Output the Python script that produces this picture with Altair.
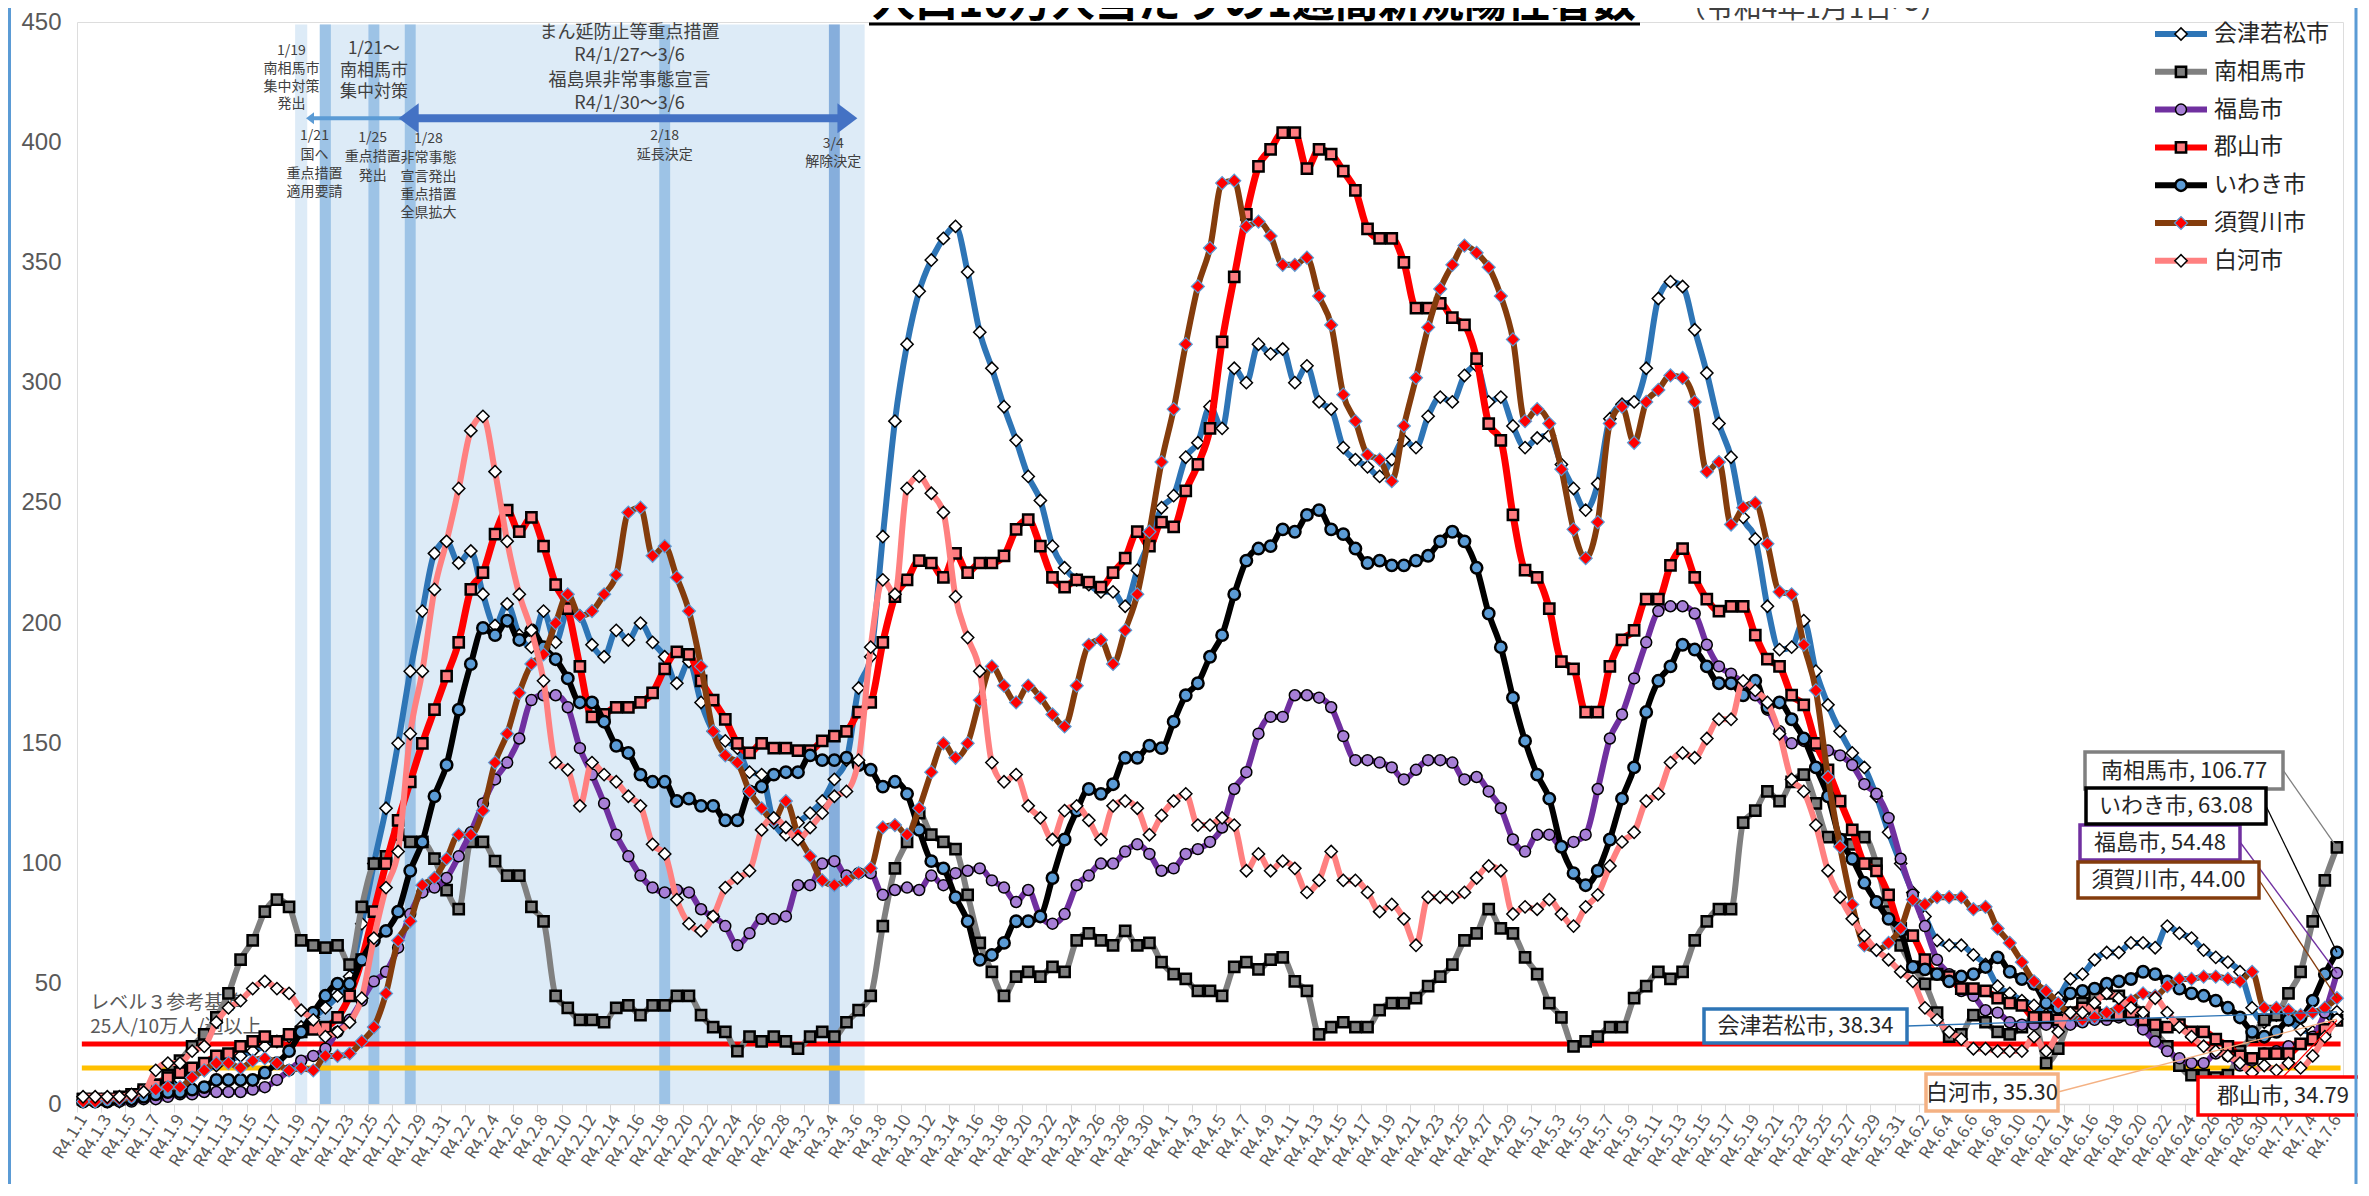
import json
import pandas as pd
import altair as alt

FONT = "Noto Sans CJK JP"

# ---------------- data ----------------
dates = pd.date_range("2022-01-01", "2022-07-06", freq="D")
day_labels = [f"R4.{d.month}.{d.day}" for d in dates]
days = list(range(len(day_labels)))

cities = ["会津若松市", "南相馬市", "福島市", "郡山市", "いわき市", "須賀川市", "白河市"]

aizu = [1, 1, 1, 1, 2, 3, 5, 8, 10, 12,
        14, 16, 18, 20, 22, 24, 26, 28, 32, 36,
        40, 45, 53, 75, 100, 123, 150, 180, 205, 229,
        234, 225, 230, 212, 199, 208, 195, 190, 205, 192,
        205, 203, 191, 186, 197, 193, 200, 192, 186, 175,
        184, 167, 155, 151, 148, 138, 137, 117, 112, 117,
        121, 126, 135, 143, 173, 186, 236, 284, 316, 338,
        351, 360, 365, 346, 321, 306, 290, 276, 261, 251,
        232, 223, 218, 216, 213, 213, 207, 222, 234, 248,
        253, 269, 275, 290, 281, 306, 300, 316, 312, 314,
        300, 307, 292, 289, 273, 268, 265, 261, 268, 276,
        273, 286, 294, 292, 303, 307, 292, 294, 282, 273,
        277, 278, 266, 256, 247, 258, 285, 291, 292, 306,
        335, 342, 340, 322, 304, 283, 269, 244, 235, 207,
        189, 190, 201, 180, 166, 155, 146, 140, 128, 113,
        100, 88, 78, 68, 66, 66, 62, 58, 49, 46,
        43, 41, 37, 44, 52, 54, 60, 63, 63, 67,
        67, 65, 74, 71, 69, 64, 61, 59, 55, 40,
        34, 37, 35, 31, 30, 34, 38.34]

minamisoma = [2, 2, 2, 2, 3, 5, 8, 12, 18, 24,
              29, 36, 46, 60, 68, 80, 85, 82, 68, 66,
              65, 66, 58, 82, 100, 103, 112, 109, 109, 102,
              89, 81, 109, 109, 101, 95, 95, 82, 76, 45,
              40, 35, 35, 34, 40, 41, 37, 41, 41, 45,
              45, 37, 32, 30, 22, 28, 26, 28, 26, 23,
              28, 30, 28, 34, 39, 45, 74, 98, 109, 121,
              112, 109, 106, 87, 67, 55, 45, 53, 55, 53,
              57, 55, 68, 71, 68, 66, 72, 66, 67, 59,
              54, 52, 47, 47, 45, 57, 59, 56, 60, 61,
              51, 47, 29, 32, 34, 32, 32, 39, 42, 42,
              44, 49, 53, 58, 68, 71, 81, 73, 71, 61,
              54, 42, 36, 24, 26, 28, 32, 32, 44, 49,
              55, 52, 55, 68, 76, 81, 81, 117, 122, 130,
              126, 134, 137, 125, 111, 110, 108, 111, 100, 80,
              66, 57, 50, 38, 28, 29, 37, 34, 30, 29,
              32, 36, 17, 23, 36, 42, 44, 46, 45, 42,
              38, 30, 24, 16, 12, 12, 11, 12, 22, 28,
              35, 37, 46, 55, 76, 93, 106.77]

fukushima = [1, 1, 1, 1, 1, 2, 2, 3, 4, 4,
             5, 5, 5, 5, 6, 7, 10, 14, 18, 20,
             23, 30, 35, 43, 51, 55, 65, 79, 88, 90,
             94, 103, 113, 125, 135, 142, 152, 168, 170, 170,
             165, 148, 137, 125, 112, 103, 95, 90, 88, 89,
             88, 81, 78, 74, 66, 71, 77, 77, 78, 91,
             91, 100, 101, 95, 96, 96, 87, 89, 90, 89,
             95, 91, 96, 97, 98, 93, 90, 84, 89, 78,
             75, 79, 91, 95, 100, 100, 105, 108, 104, 97,
             98, 104, 106, 109, 115, 131, 138, 154, 161, 161,
             170, 170, 169, 165, 153, 143, 143, 142, 140, 135,
             139, 143, 143, 142, 135, 136, 130, 123, 110, 105,
             112, 112, 107, 109, 112, 131, 152, 162, 177, 192,
             205, 207, 207, 204, 191, 182, 179, 175, 170, 164,
             155, 150, 151, 149, 147, 145, 141, 133, 129, 119,
             102, 87, 74, 60, 54, 47, 45, 39, 38, 34,
             33, 33, 33, 33, 33, 34, 35, 35, 36, 35,
             31, 26, 22, 19, 17, 17, 21, 20, 16, 18,
             21, 22, 24, 25, 28, 38, 54.48]

koriyama = [2, 2, 2, 3, 4, 6, 8, 11, 13, 15,
            17, 20, 21, 24, 26, 28, 26, 29, 30, 31,
            32, 36, 45, 60, 80, 100, 118, 134, 150, 164,
            178, 192, 214, 221, 237, 247, 238, 244, 232, 216,
            206, 182, 161, 162, 165, 165, 167, 171, 181, 188,
            187, 176, 168, 160, 150, 146, 150, 148, 148, 147,
            147, 151, 153, 155, 163, 167, 192, 211, 218, 226,
            225, 219, 229, 221, 225, 225, 228, 239, 243, 232,
            219, 215, 218, 217, 215, 221, 227, 238, 232, 242,
            240, 255, 266, 281, 317, 344, 370, 390, 397, 404,
            404, 389, 397, 395, 388, 380, 364, 360, 360, 350,
            331, 331, 333, 327, 324, 310, 283, 276, 245, 222,
            219, 206, 184, 181, 163, 163, 182, 193, 197, 210,
            210, 224, 231, 219, 210, 205, 207, 207, 195, 185,
            182, 170, 166, 150, 139, 126, 114, 100, 97, 87,
            73, 70, 60, 54, 53, 48, 48, 47, 44, 42,
            41, 36, 36, 35, 38, 40, 38, 37, 37, 38,
            35, 33, 32, 33, 30, 30, 27, 24, 20, 19,
            21, 21, 21, 25, 27, 31, 34.79]

iwaki = [1, 1, 1, 2, 2, 3, 4, 5, 5, 6,
         7, 10, 10, 10, 10, 13, 17, 22, 30, 38,
         45, 50, 50, 60, 68, 72, 80, 97, 109, 128,
         141, 164, 183, 198, 195, 201, 193, 197, 190, 185,
         177, 167, 167, 159, 149, 146, 137, 134, 134, 126,
         127, 124, 124, 118, 118, 130, 132, 137, 138, 138,
         145, 143, 143, 144, 141, 139, 132, 134, 129, 114,
         101, 98, 86, 76, 60, 62, 67, 76, 76, 78,
         94, 110, 122, 131, 129, 133, 144, 144, 149, 148,
         159, 170, 175, 186, 195, 212, 226, 231, 232, 239,
         238, 245, 247, 239, 237, 231, 225, 226, 224, 224,
         226, 228, 234, 238, 234, 223, 204, 190, 169, 151,
         137, 127, 107, 96, 91, 97, 110, 127, 140, 163,
         176, 182, 191, 189, 182, 175, 175, 170, 176, 165,
         167, 160, 152, 140, 128, 110, 102, 92, 84, 77,
         72, 57, 56, 54, 51, 53, 54, 57, 61, 55,
         52, 50, 42, 40, 46, 47, 48, 50, 51, 52,
         55, 54, 51, 48, 46, 45, 43, 40, 36, 30,
         28, 30, 35, 36, 43, 54, 63.08]

sukagawa = [1, 1, 2, 2, 3, 5, 6, 7, 7, 11,
            14, 17, 17, 15, 18, 19, 17, 14, 15, 14,
            20, 20, 21, 26, 32, 46, 68, 76, 91, 94,
            102, 112, 112, 122, 142, 154, 171, 183, 187, 200,
            212, 203, 205, 212, 220, 246, 248, 228, 232, 219,
            205, 182, 155, 145, 142, 130, 123, 118, 126, 112,
            103, 93, 91, 93, 96, 98, 115, 116, 112, 123,
            138, 150, 144, 150, 168, 182, 174, 167, 174, 169,
            162, 157, 174, 191, 193, 183, 197, 212, 238, 267,
            289, 316, 340, 356, 383, 384, 365, 367, 361, 349,
            349, 352, 336, 324, 295, 284, 270, 268, 259, 282,
            302, 323, 339, 349, 357, 354, 348, 336, 318, 284,
            289, 283, 264, 239, 227, 242, 283, 290, 275, 292,
            297, 303, 302, 292, 263, 267, 241, 248, 250, 233,
            213, 212, 191, 172, 136, 107, 83, 66, 64, 67,
            73, 85, 83, 86, 86, 86, 81, 82, 73, 67,
            59, 51, 47, 42, 37, 35, 36, 38, 40, 43,
            46, 45, 49, 52, 52, 53, 53, 52, 51, 55,
            40, 40, 39, 37, 38, 40, 44.00]

shirakawa = [3, 3, 3, 3, 4, 5, 14, 17, 17, 22,
             24, 34, 40, 43, 48, 51, 48, 46, 39, 35,
             28, 30, 34, 44, 69, 90, 105, 154, 180, 214,
             234, 256, 280, 286, 263, 234, 212, 197, 176, 142,
             139, 124, 142, 137, 134, 128, 124, 108, 104, 85,
             75, 72, 78, 90, 94, 97, 114, 119, 115, 110,
             115, 121, 128, 130, 143, 190, 218, 212, 256, 261,
             254, 246, 211, 194, 180, 142, 134, 137, 124, 119,
             110, 122, 124, 118, 110, 124, 126, 123, 112, 120,
             126, 129, 116, 116, 119, 116, 97, 104, 97, 101,
             98, 88, 93, 105, 93, 93, 88, 80, 83, 77,
             66, 86, 86, 86, 88, 94, 99, 97, 79, 82,
             81, 85, 79, 74, 82, 87, 99, 109, 113, 126,
             129, 142, 146, 144, 152, 160, 160, 176, 172, 167,
             154, 135, 130, 116, 97, 86, 77, 70, 64, 60,
             55, 51, 40, 35, 30, 27, 23, 23, 22, 22,
             22, 28, 22, 30, 38, 38, 42, 46, 44, 40,
             38, 44, 38, 32, 28, 24, 22, 20, 17, 13,
             16, 14, 17, 15, 20, 28, 35.30]

series_values = [aizu, minamisoma, fukushima, koriyama, iwaki, sukagawa, shirakawa]
for s in series_values:
    assert len(s) == len(days), len(s)

# reference levels
level_values = [25, 15]
level_colors = ["#FF0000", "#FFC000"]

# shaded periods (day index, 0 = R4.1.1)
light_spans = [(17.5, 18.5), (19.5, 64.5)]
event_days = [20, 24, 27, 48]   # 1/21, 1/25, 1/28, 2/18
final_event_day = 62            # 3/4

# annotation texts
ann_text = ["1/19", "南相馬市", "集中対策", "発出",
            "1/21～", "南相馬市", "集中対策",
            "まん延防止等重点措置", "R4/1/27～3/6", "福島県非常事態宣言", "R4/1/30～3/6",
            "1/21", "国へ", "重点措置", "適用要請",
            "1/25", "重点措置", "発出",
            "1/28", "非常事態", "宣言発出", "重点措置", "全県拡大",
            "2/18", "延長決定",
            "3/4", "解除決定"]
ann_day = [17.2] * 4 + [24.0] * 3 + [45.1] * 4 + [19.1] * 4 + [23.9] * 3 + [28.5] * 5 + [48.0] * 2 + [61.9] * 2
ann_value = [438.0, 430.6, 423.1, 415.7,
             438.8, 429.8, 420.7,
             445.5, 436.0, 425.6, 416.1,
             402.5, 394.6, 386.8, 379.3,
             401.7, 393.8, 386.0,
             401.2, 393.4, 385.5, 378.1, 370.7,
             402.5, 394.6,
             399.2, 391.7]
ann_size = [14] * 4 + [17] * 3 + [18] * 4 + [14] * 4 + [14] * 3 + [14] * 5 + [14] * 2 + [14] * 2

level_text = ["レベル３参考基準", "25人/10万人/週以上"]
level_text_value = [42, 32]

TITLE_MAIN = "人口10万人当たりの1週間新規陽性者数"
TITLE_SUB = "（令和4年1月1日～）"

# ---------------- styles ----------------
styles = {
    "会津若松市": dict(line="#2E75B6", lw=6, shape="diamond", fill="#FFFFFF", stroke="#000000", sw=1.5, size=150),
    "南相馬市": dict(line="#808080", lw=6, shape="square", fill="#7F7F7F", stroke="#000000", sw=2.5, size=105),
    "福島市": dict(line="#7030A0", lw=6, shape="circle", fill="#A77FD6", stroke="#000000", sw=1.5, size=120),
    "郡山市": dict(line="#FF0000", lw=7, shape="square", fill="#FF7C80", stroke="#000000", sw=2.5, size=105),
    "いわき市": dict(line="#000000", lw=6, shape="circle", fill="#5B9BD5", stroke="#000000", sw=2.5, size=130),
    "須賀川市": dict(line="#843C0C", lw=6, shape="diamond", fill="#FF0000", stroke="#5B9BD5", sw=1.2, size=170),
    "白河市": dict(line="#FF8080", lw=6, shape="diamond", fill="#FFFFFF", stroke="#000000", sw=1.5, size=150),
}
box_colors = {"会津若松市": "#2E75B6", "南相馬市": "#808080", "福島市": "#7030A0", "郡山市": "#FF0000",
              "いわき市": "#000000", "須賀川市": "#843C0C", "白河市": "#F4B183"}

# layout: plot area in page pixels
PAD_L, PAD_T = 69, 14
W, H = 2266, 1082


def PX(page_x):
    return page_x - 8 - PAD_L


def PY(page_y):
    return page_y - 8 - PAD_T


X_SCALE = alt.Scale(domain=[-0.5, 186.5], nice=False, zero=False)
Y_SCALE = alt.Scale(domain=[0, 450], nice=False, zero=True)
x_axis = alt.Axis(values=list(range(0, len(days), 2)),
                  labelExpr=f"{json.dumps(day_labels)}[datum.value]",
                  labelAngle=-58, labelAlign="right", labelBaseline="middle",
                  labelFontSize=17, labelColor="#595959", labelFont=FONT,
                  labelOverlap=False, labelFlush=False, labelPadding=4,
                  tickColor="#D9D9D9", tickSize=8, tickOffset=-6.06, labelOffset=6.06,
                  domainColor="#D9D9D9", domainWidth=1.5, grid=False, title=None)
y_axis = alt.Axis(values=list(range(0, 451, 50)), labelFontSize=24, labelColor="#595959",
                  labelFont="Liberation Sans", ticks=False, domain=False, grid=False,
                  labelPadding=16, title=None)


def X(f):
    return alt.X(f"{f}:Q", scale=X_SCALE, axis=x_axis, title=None)


def Y(f):
    return alt.Y(f"{f}:Q", scale=Y_SCALE, axis=y_axis, title=None)


one = pd.DataFrame({"k": [0]})
layers = []

# bands
band_rows = [dict(x1=a, x2=b, y1=0, y2=449, c="#DDEBF7") for a, b in light_spans]
band_rows += [dict(x1=d - 0.45, x2=d + 0.45, y1=0, y2=449, c="#9DC3E6") for d in event_days]
band_rows += [dict(x1=final_event_day - 0.45, x2=final_event_day + 0.45, y1=0, y2=449, c="#86AEDC")]
bands = pd.DataFrame(band_rows)
layers.append(alt.Chart(bands).mark_rect().encode(
    x=X("x1"), x2=alt.X2("x2:Q"), y=Y("y1"), y2=alt.Y2("y2:Q"),
    color=alt.Color("c:N", scale=None)))

# level lines
lv = pd.DataFrame({"x1": [-0.1] * 2, "x2": [186.3] * 2, "v": level_values, "c": level_colors})
layers.append(alt.Chart(lv).mark_rule(strokeWidth=5).encode(
    x=X("x1"), x2=alt.X2("x2:Q"), y=Y("v"), color=alt.Color("c:N", scale=None)))

# level text
lt = pd.DataFrame({"t": level_text, "d": [0.6, 0.6], "v": level_text_value})
layers.append(alt.Chart(lt).mark_text(align="left", baseline="middle", fontSize=19, font=FONT,
                                       color="#595959").encode(x=X("d"), y=Y("v"), text="t:N"))

# arrows
ARROW_V = 410
light_shaft = pd.DataFrame({"x1": [18.9], "x2": [27.0], "v": [ARROW_V]})
layers.append(alt.Chart(light_shaft).mark_rule(color="#5B9BD5", strokeWidth=4).encode(
    x=X("x1"), x2=alt.X2("x2:Q"), y=Y("v")))
layers.append(alt.Chart(pd.DataFrame({"d": [18.4], "v": [ARROW_V]})).mark_point(
    shape="M0,0L1.33,-1L1.33,1Z", filled=True, fill="#5B9BD5", strokeWidth=0, size=144, opacity=1
).encode(x=X("d"), y=Y("v")))
dark_shaft = pd.DataFrame({"x1": [27.0], "x2": [63.0], "v": [ARROW_V]})
layers.append(alt.Chart(dark_shaft).mark_rule(color="#4472C4", strokeWidth=8).encode(
    x=X("x1"), x2=alt.X2("x2:Q"), y=Y("v")))
layers.append(alt.Chart(pd.DataFrame({"d": [26.05], "v": [ARROW_V]})).mark_point(
    shape="M0,0L1.33,-1L1.33,1Z", filled=True, fill="#4472C4", strokeWidth=0, size=900, opacity=1
).encode(x=X("d"), y=Y("v")))
layers.append(alt.Chart(pd.DataFrame({"d": [63.9], "v": [ARROW_V]})).mark_point(
    shape="M0,0L-1.33,-1L-1.33,1Z", filled=True, fill="#4472C4", strokeWidth=0, size=900, opacity=1
).encode(x=X("d"), y=Y("v")))

# annotation text
ann = pd.DataFrame({"t": ann_text, "d": ann_day, "v": ann_value, "s": ann_size})
layers.append(alt.Chart(ann).mark_text(align="center", baseline="middle", font=FONT,
                                        color="#404040").encode(
    x=X("d"), y=Y("v"), text="t:N", size=alt.Size("s:Q", scale=None, legend=None)))

# series
for name, vals in zip(cities, series_values):
    st = styles[name]
    df = pd.DataFrame({"day": days, "value": vals})
    base = alt.Chart(df)
    layers.append(base.mark_line(color=st["line"], strokeWidth=st["lw"], interpolate="monotone")
                  .encode(x=X("day"), y=Y("value")))
    layers.append(base.mark_point(shape=st["shape"], filled=True, fill=st["fill"], stroke=st["stroke"],
                                  strokeWidth=st["sw"], size=st["size"], opacity=1)
                  .encode(x=X("day"), y=Y("value")))

# title (its upper part is cut off by the page edge, as in the original)
layers.append(alt.Chart(one).mark_text(align="center", baseline="bottom", fontSize=43, fontWeight="bold",
                                       font=FONT, color="#000000").encode(
    x=alt.value(PX(1254)), y=alt.value(PY(26)), text=alt.value(TITLE_MAIN)))
layers.append(alt.Chart(one).mark_rule(color="#000000", strokeWidth=3).encode(
    x=alt.value(PX(869)), x2=alt.value(PX(1640)), y=alt.value(PY(24)), y2=alt.value(PY(24))))
layers.append(alt.Chart(one).mark_text(align="center", baseline="bottom", fontSize=28,
                                       font=FONT, color="#404040").encode(
    x=alt.value(PX(1813)), y=alt.value(PY(24)), text=alt.value(TITLE_SUB)))

# legend
for i, name in enumerate(cities):
    st = styles[name]
    py = PY(34 + i * 37.8)
    layers.append(alt.Chart(one).mark_rule(color=st["line"], strokeWidth=6).encode(
        x=alt.value(PX(2155)), x2=alt.value(PX(2207)), y=alt.value(py), y2=alt.value(py)))
    layers.append(alt.Chart(one).mark_point(shape=st["shape"], filled=True, fill=st["fill"], stroke=st["stroke"],
                                            strokeWidth=st["sw"], size=st["size"], opacity=1).encode(
        x=alt.value(PX(2181)), y=alt.value(py)))
    layers.append(alt.Chart(one).mark_text(align="left", baseline="middle", fontSize=23, font=FONT,
                                           color="#262626").encode(
        x=alt.value(PX(2214)), y=alt.value(py), text=alt.value(name)))

# data callouts: box (page px) and leader start (page px)
callouts = {
    "南相馬市": ((2085, 2283, 752, 789), (2283, 770)),
    "いわき市": ((2086, 2266, 788, 824), (2266, 806)),
    "福島市": ((2080, 2240, 825, 860), (2240, 842)),
    "須賀川市": ((2078, 2259, 862, 898), (2259, 880)),
    "会津若松市": ((1704, 1907, 1009, 1043), (1907, 1026)),
    "白河市": ((1926, 2058, 1074, 1111), (2058, 1092)),
    "郡山市": ((2198, 2377, 1077, 1115), (2283, 1077)),
}
for name, vals in zip(cities, series_values):
    (x0, x1, y0, y1), (lx, ly) = callouts[name]
    c = box_colors[name]
    pt = pd.DataFrame({"day": [days[-1]], "value": [vals[-1]]})
    layers.append(alt.Chart(pt).mark_rule(color=c, strokeWidth=1.3).encode(
        x=X("day"), y=Y("value"), x2=alt.value(PX(lx)), y2=alt.value(PY(ly))))
for name, vals in zip(cities, series_values):
    (x0, x1, y0, y1), (lx, ly) = callouts[name]
    c = box_colors[name]
    layers.append(alt.Chart(one).mark_rect(fill="#FFFFFF", stroke=c, strokeWidth=3.5).encode(
        x=alt.value(PX(x0)), x2=alt.value(PX(x1)), y=alt.value(PY(y0)), y2=alt.value(PY(y1))))
    tx = (x0 + x1) / 2 if name != "郡山市" else 2283
    layers.append(alt.Chart(one).mark_text(align="center", baseline="middle", fontSize=22, font=FONT,
                                           color="#262626").encode(
        x=alt.value(PX(tx)), y=alt.value(PY((y0 + y1) / 2)), text=alt.value(f"{name}, {vals[-1]:.2f}")))

# outer frame lines
for bx in (9.5, 2356):
    layers.append(alt.Chart(one).mark_rule(color="#5B9BD5", strokeWidth=3).encode(
        x=alt.value(PX(bx)), x2=alt.value(PX(bx)), y=alt.value(-PAD_T), y2=alt.value(H + 80)))

chart = alt.layer(*layers).properties(
    width=W, height=H,
    autosize=alt.AutoSizeParams(type="none"),
    padding={"left": PAD_L, "top": PAD_T, "right": 15, "bottom": 80},
).configure_view(strokeWidth=0).configure(background="#FFFFFF")

chart.save("out.html", embed_options={"renderer": "svg", "actions": False})
